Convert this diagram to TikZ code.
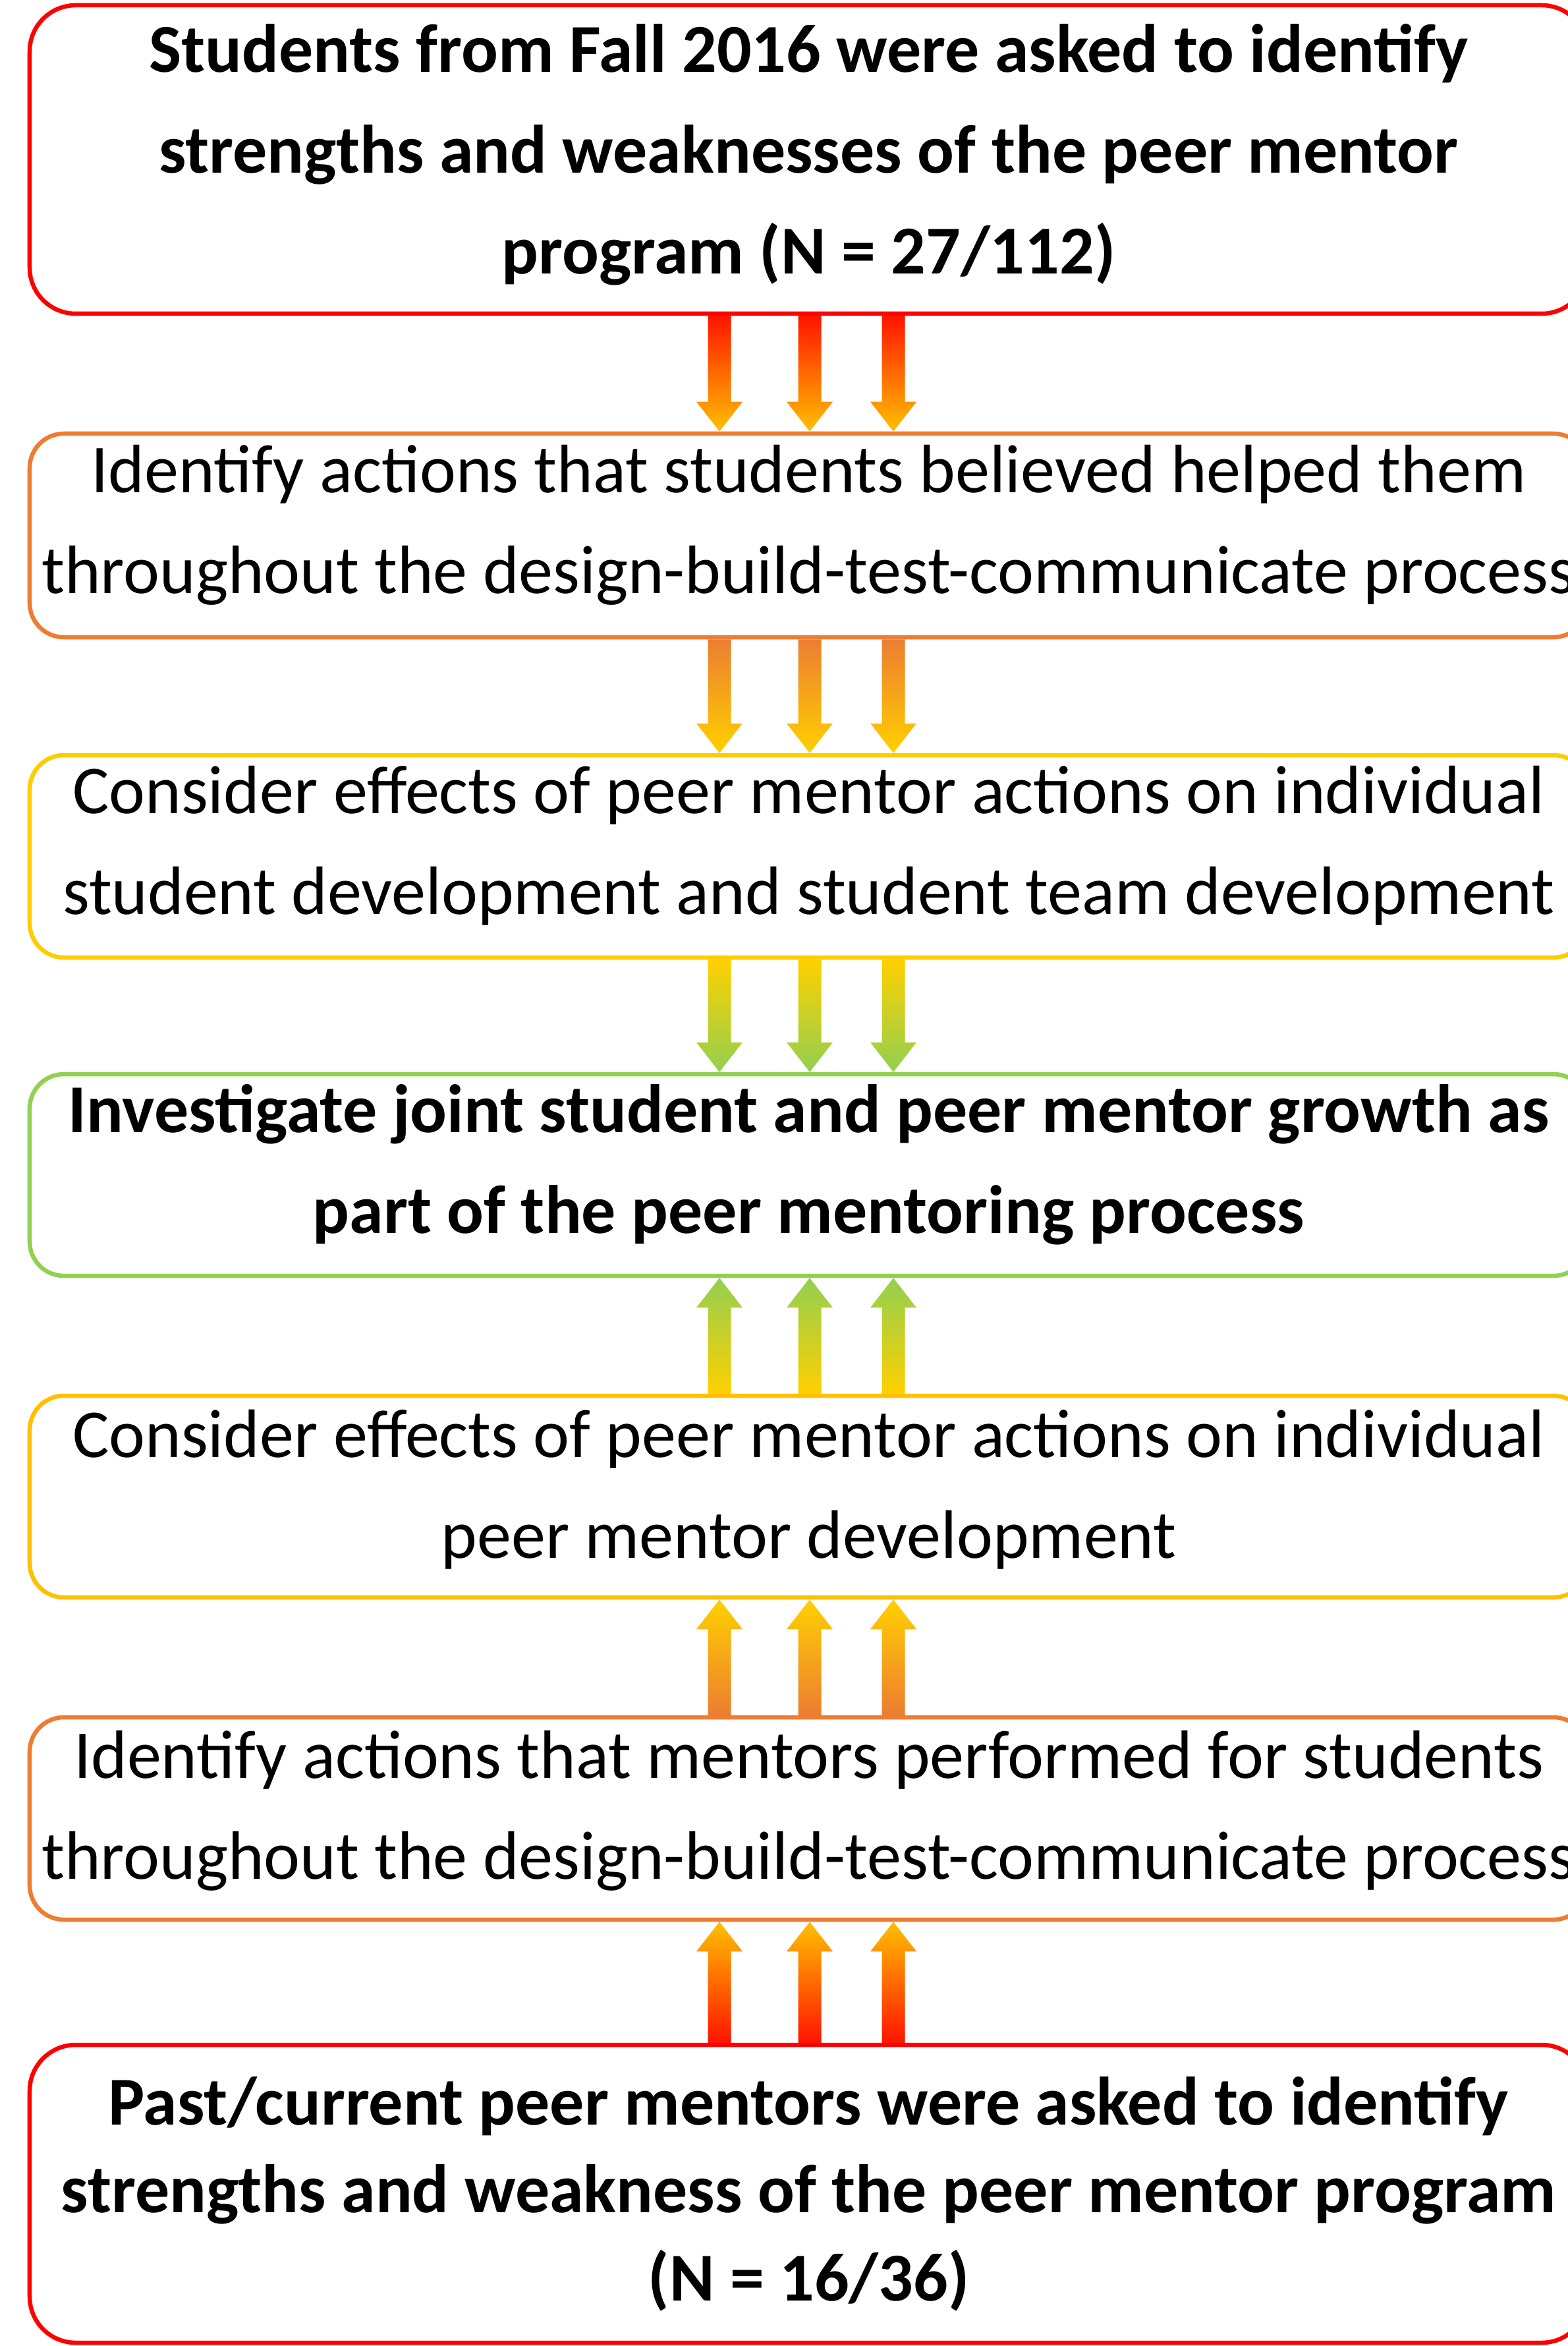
\documentclass[tikz,border=0pt]{standalone}
\usepackage{fontspec}
\setmainfont{Carlito}
\usetikzlibrary{calc}
\definecolor{boxred}{HTML}{FF0000}
\definecolor{boxorange}{HTML}{ED7D31}
\definecolor{boxyellow}{HTML}{FFCC00}
\definecolor{boxgold}{HTML}{FFC000}
\definecolor{boxgreen}{HTML}{92D050}
\definecolor{arrred}{HTML}{FF1400}
\definecolor{arryellow}{HTML}{FFD000}

\begin{document}
\begin{tikzpicture}[
  box/.style={draw, rounded corners=0.52cm, line width=0.065cm, minimum width=23.65cm, inner sep=0pt},
  bigbox/.style={box, rounded corners=0.70cm},
  txt/.style={align=center, inner sep=0pt, font=\fontsize{29.6}{43.6}\selectfont},
  boldtxt/.style={align=center, inner sep=0pt, font=\fontsize{29.6}{43.6}\selectfont\bfseries},
]
\useasboundingbox (0,0) rectangle (23.79,-35.60);

\node[bigbox, draw=boxred, minimum height=4.68cm] (b1) at (12.275,-2.42) {};
\node[box, draw=boxorange, minimum height=3.09cm] (b2) at (12.275,-8.125) {};
\node[box, draw=boxyellow, minimum height=3.07cm] (b3) at (12.275,-12.995) {};
\node[box, draw=boxgreen, minimum height=3.06cm] (b4) at (12.275,-17.83) {};
\node[box, draw=boxgold, minimum height=3.06cm] (b5) at (12.275,-22.71) {};
\node[box, draw=boxorange, minimum height=3.07cm] (b6) at (12.275,-27.595) {};
\node[bigbox, draw=boxred, minimum height=4.52cm] (b7) at (12.275,-33.29) {};

\node[boldtxt] (t1) at ([yshift=0.7mm]b1.center) {Students from Fall 2016 were asked to identify\\ strengths and weaknesses of the peer mentor\\ program (N = 27/112)};
\node[txt] (t2) at ([yshift=1.6mm]b2.center) {Identify actions that students believed helped them\\ throughout the design-build-test-communicate process};
\node[txt] (t3) at ([yshift=1.6mm]b3.center) {Consider effects of peer mentor actions on individual\\ student development and student team development};
\node[boldtxt] (t4) at ([yshift=1.6mm]b4.center) {Investigate joint student and peer mentor growth as\\ part of the peer mentoring process};
\node[txt] (t5) at ([yshift=1.1mm]b5.center) {Consider effects of peer mentor actions on individual\\ peer mentor development};
\node[txt] (t6) at ([yshift=1.2mm]b6.center) {Identify actions that mentors performed for students\\ throughout the design-build-test-communicate process};
\node[boldtxt, font=\fontsize{29.6}{38}\selectfont\bfseries] (t7) at (b7.center) {Past/current peer mentors were asked to identify\\ strengths and weakness of the peer mentor program\\ (N = 16/36)};

\foreach \s/\e/\d/\ct/\cb in {b1.south/b2.north/1/arrred/boxgold, b2.south/b3.north/1/boxorange/arryellow, b3.south/b4.north/1/arryellow/boxgreen, b5.north/b4.south/-1/boxgreen/arryellow, b6.north/b5.south/-1/arryellow/boxorange, b7.north/b6.south/-1/boxgold/arrred}{
  \foreach \x in {10.92,12.29,13.56}{
    \coordinate (p) at (\s -| \x,0);
    \coordinate (q) at (\e -| \x,0);
    \shade[top color=\ct, bottom color=\cb] ($(p)+(-0.175,0)$) -- ($(q)+(-0.175,\d*0.45)$) -- ($(q)+(-0.35,\d*0.45)$) -- (q) -- ($(q)+(0.35,\d*0.45)$) -- ($(q)+(0.175,\d*0.45)$) -- ($(p)+(0.175,0)$) -- cycle;
  }
}

\end{tikzpicture}
\end{document}
